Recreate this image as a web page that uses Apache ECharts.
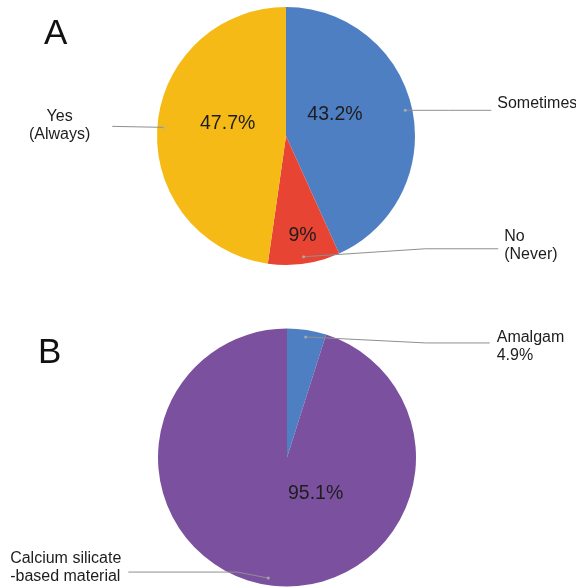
<!DOCTYPE html>
<html>
<head>
<meta charset="utf-8">
<script src="https://cdn.jsdelivr.net/npm/echarts@6/dist/echarts.min.js"></script>
<style>
  html, body { margin: 0; padding: 0; background: #ffffff; }
  #chart { width: 576px; height: 588px; }
</style>
</head>
<body>
<div id="chart"></div>
<script>
// Panel A: response frequency (percent of respondents)
const freqNames = ['Sometimes', 'No\n(Never)', 'Yes\n(Always)'];
const freqValues = [43.2, 9, 47.7];
const freqColors = ['#4f7fc3', '#e84434', '#f6ba16'];

// Panel B: material used (percent of respondents)
const materialNames = ['Amalgam', 'Calcium silicate\n-based material'];
const materialValues = [4.9, 95.1];
const materialColors = ['#4f7fc3', '#7b519f'];
// which outer labels also state the share
const materialShowValue = [true, false];

const FONT = 'Liberation Sans, Arial, Helvetica, sans-serif';
const TEXT = '#1d1d1d';
const LINE = '#8f8f8f';
const R = 129;         // pie radius
const R_CALLOUT = 122; // where the callout lines start

// Shift of the in-slice percentage labels from their default spot
const freqInnerShift = [[-17, -7], [7, 33], [9, -8]];
const materialInnerShift = [null, [39, -31]];

// Callout geometry: horizontal run, vertical nudge of the line end, text nudge
const freqCallout = [
  { len2: 86, flat: 0, lineDy: 0, textDy: -7, gap: 6, mode: 'right' },
  { len2: 195, flat: 73, lineDy: -8, textDy: -3, gap: 6, mode: 'right' },
  { len2: 52, flat: 0, lineDy: -1, textDy: -1, gap: 22, mode: 'center' }
];
const materialCallout = [
  { len2: 184, flat: 64, lineDy: 6, textDy: 4, gap: 7, mode: 'right' },
  { len2: 140, flat: 109, lineDy: -6, textDy: -4, gap: 7, mode: 'left' }
];

function slicesSeries(center, names, values, colors, shifts) {
  return {
    type: 'pie',
    z: 2,
    center: center,
    radius: R,
    startAngle: 90,
    clockwise: true,
    silent: true,
    avoidLabelOverlap: false,
    itemStyle: { borderWidth: 0 },
    label: {
      show: true,
      position: 'inside',
      fontFamily: FONT,
      fontSize: 19.5,
      color: TEXT,
      formatter: p => p.value + '%'
    },
    labelLine: { show: false },
    labelLayout: function (p) {
      const s = shifts[p.dataIndex];
      if (!s) return {};
      const r = p.labelRect;
      return {
        x: r.x + r.width / 2 + s[0],
        y: r.y + r.height / 2 + s[1],
        align: 'center',
        verticalAlign: 'middle'
      };
    },
    data: names.map((n, i) => ({
      name: n,
      value: values[i],
      itemStyle: { color: colors[i] },
      label: { show: !!shifts[i] }
    }))
  };
}

function calloutSeries(center, names, values, cfg, labelText) {
  return {
    type: 'pie',
    z: 5,
    center: center,
    radius: R_CALLOUT,
    startAngle: 90,
    clockwise: true,
    silent: true,
    avoidLabelOverlap: false,
    itemStyle: { color: 'rgba(0,0,0,0)' },
    label: {
      show: true,
      position: 'outside',
      fontFamily: FONT,
      fontSize: 16,
      lineHeight: 18,
      color: TEXT,
      overflow: 'none',
      formatter: p => labelText(p.dataIndex)
    },
    labelLine: {
      show: true,
      length: 0,
      smooth: false,
      lineStyle: { color: LINE, width: 1 }
    },
    labelLayout: function (p) {
      const c = cfg[p.dataIndex];
      const pts = p.labelLinePoints;
      if (!c || !pts) return {};
      const a = pts[0];
      const e = pts[pts.length - 1];
      const sgn = e[0] >= a[0] ? 1 : -1;
      const lineY = e[1] + c.lineDy;
      const bend = c.flat ? [e[0] - sgn * c.flat, lineY] : [(a[0] + e[0]) / 2, (a[1] + lineY) / 2];
      const w = p.labelRect.width;
      let x, align;
      if (c.mode === 'right') { x = e[0] + c.gap; align = 'left'; }
      else if (c.mode === 'center') { x = e[0] - c.gap - w / 2; align = 'center'; }
      else { x = e[0] - c.gap - w; align = 'left'; }
      return {
        x: x,
        y: lineY + c.textDy,
        align: align,
        verticalAlign: 'middle',
        labelLinePoints: [[a[0], a[1]], bend, [e[0], lineY]]
      };
    },
    data: names.map((n, i) => ({
      name: n,
      value: values[i],
      labelLine: { length: 0, length2: cfg[i].len2 }
    }))
  };
}

// Small dot where each callout line starts: middle of each slice, on a polar grid
function midShares(values) {
  let acc = 0;
  return values.map(v => { const m = acc + v / 2; acc += v; return m; });
}
function dotSeries(polarIndex, values) {
  return {
    type: 'scatter',
    coordinateSystem: 'polar',
    polarIndex: polarIndex,
    z: 6,
    silent: true,
    symbol: 'circle',
    symbolSize: 3,
    itemStyle: { color: '#b4b4b4' },
    data: midShares(values).map(m => [R_CALLOUT, m])
  };
}

const centerA = [286, 136];
const centerB = [287, 457.5];

const hiddenAngle = i => ({
  polarIndex: i, type: 'value', min: 0, max: 100, startAngle: 90, clockwise: true, show: false
});
const hiddenRadius = i => ({
  polarIndex: i, type: 'value', min: 0, max: R, show: false
});

const chart = echarts.init(document.getElementById('chart'), null, { renderer: 'canvas' });
chart.setOption({
  animation: false,
  backgroundColor: '#ffffff',
  title: [
    { text: 'A', left: 44, top: 17, padding: 0,
      textStyle: { fontFamily: FONT, fontSize: 35, fontWeight: 'normal', color: '#111111' } },
    { text: 'B', left: 38, top: 336, padding: 0,
      textStyle: { fontFamily: FONT, fontSize: 35, fontWeight: 'normal', color: '#111111' } }
  ],
  polar: [
    { center: centerA, radius: R },
    { center: centerB, radius: R }
  ],
  angleAxis: [hiddenAngle(0), hiddenAngle(1)],
  radiusAxis: [hiddenRadius(0), hiddenRadius(1)],
  series: [
    slicesSeries(centerA, freqNames, freqValues, freqColors, freqInnerShift),
    slicesSeries(centerB, materialNames, materialValues, materialColors, materialInnerShift),
    calloutSeries(centerA, freqNames, freqValues, freqCallout, i => freqNames[i]),
    calloutSeries(centerB, materialNames, materialValues, materialCallout,
      i => materialShowValue[i] ? materialNames[i] + '\n' + materialValues[i] + '%' : materialNames[i]),
    dotSeries(0, freqValues),
    dotSeries(1, materialValues)
  ]
});
</script>
</body>
</html>
